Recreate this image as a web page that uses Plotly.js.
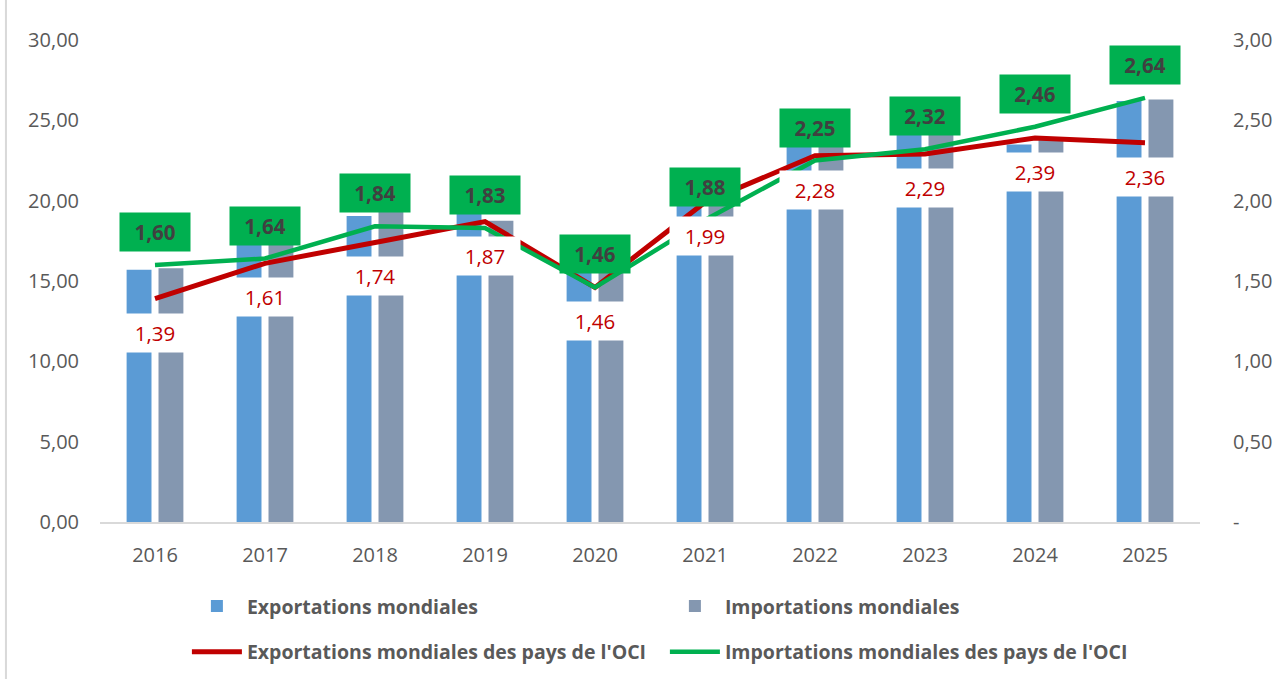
<!DOCTYPE html>
<html>
<head>
<meta charset="utf-8">
<script src="https://cdn.plot.ly/plotly-3.0.1.min.js"></script>
<style>
  html, body { margin: 0; padding: 0; background: #fff; }
  #chart { width: 1282px; height: 679px; }
</style>
</head>
<body>
<div id="chart"></div>
<script>
// Years on the x axis
const years = ["2016", "2017", "2018", "2019", "2020", "2021", "2022", "2023", "2024", "2025"];

// World trade (left axis)
const worldExports = [15.7, 17.6, 19.05, 19.3, 17.6, 21.5, 24.9, 24.5, 23.5, 26.2];
const worldImports = [15.8, 17.8, 19.3, 18.75, 17.8, 21.8, 25.5, 24.8, 23.9, 26.3];

// OIC countries (right axis)
const ociExports = [1.39, 1.61, 1.74, 1.87, 1.46, 1.99, 2.28, 2.29, 2.39, 2.36];
const ociImports = [1.60, 1.64, 1.84, 1.83, 1.46, 1.88, 2.25, 2.32, 2.46, 2.64];

const leftTicks = [0, 5, 10, 15, 20, 25, 30];
const rightTicks = [0, 0.5, 1, 1.5, 2, 2.5, 3];

const fmt = (v) => v.toFixed(2).replace(".", ",");

const FONT = "'Open Sans', 'Noto Sans', sans-serif";
const GREY = "#595959";

const exportsBars = {
  type: "bar",
  name: "Exportations mondiales",
  x: years,
  y: worldExports,
  marker: { color: "#5B9BD5" },
  legend: "legend",
};

const importsBars = {
  type: "bar",
  name: "Importations mondiales",
  x: years,
  y: worldImports,
  marker: { color: "#8497B0" },
  legend: "legend",
};

const ociExportsLine = {
  type: "scatter",
  mode: "lines",
  name: "Exportations mondiales des pays de l'OCI",
  x: years,
  y: ociExports,
  yaxis: "y2",
  line: { color: "#C00000", width: 5 },
  legend: "legend2",
};

const ociImportsLine = {
  type: "scatter",
  mode: "lines",
  name: "Importations mondiales des pays de l'OCI",
  x: years,
  y: ociImports,
  yaxis: "y2",
  line: { color: "#00B050", width: 4.5 },
  legend: "legend2",
};

// data labels: exports in white boxes below, imports in green boxes above
// (x given as category index so "2016" is not read as a number)
const exportLabels = years.map((yr, i) => ({
  x: i,
  y: ociExports[i],
  xref: "x",
  yref: "y2",
  yshift: -34,
  text: fmt(ociExports[i]),
  showarrow: false,
  bgcolor: "#ffffff",
  width: 62,
  height: 30,
  borderpad: 4,
  font: { family: FONT, size: 20.5, color: "#C00000" },
}));

const importLabels = years.map((yr, i) => ({
  x: i,
  y: ociImports[i],
  xref: "x",
  yref: "y2",
  yshift: 33,
  text: fmt(ociImports[i]),
  showarrow: false,
  bgcolor: "#00B050",
  width: 62,
  height: 30,
  borderpad: 4,
  font: { family: FONT, size: 20.5, color: "#404040", weight: 700 },
}));

const legendFont = { family: FONT, size: 19.5, color: GREY, weight: 700 };

const layout = {
  width: 1282,
  height: 679,
  margin: { t: 40, r: 82, b: 157, l: 100, autoexpand: false },
  paper_bgcolor: "#ffffff",
  plot_bgcolor: "#ffffff",
  separators: ", ",
  barmode: "group",
  bargap: 0.42,
  bargroupgap: 0.22,
  font: { family: FONT, color: GREY },
  xaxis: {
    type: "category",
    range: [-0.5, years.length - 0.5],
    showgrid: false,
    showline: true,
    linecolor: "#D9D9D9",
    linewidth: 2,
    ticks: "",
    tickfont: { size: 20, color: GREY },
    ticklabelstandoff: 14,
  },
  yaxis: {
    range: [0, 30],
    tickvals: leftTicks,
    ticktext: leftTicks.map(fmt),
    showgrid: false,
    zeroline: false,
    ticks: "",
    tickfont: { size: 20, color: GREY },
    ticklabelstandoff: 20,
  },
  yaxis2: {
    overlaying: "y",
    side: "right",
    range: [0, 3],
    tickvals: rightTicks,
    ticktext: rightTicks.map((v) => (v === 0 ? "-" : fmt(v))),
    showgrid: false,
    zeroline: false,
    ticks: "",
    tickfont: { size: 20, color: GREY },
    ticklabelstandoff: 32,
  },
  legend: {
    orientation: "h",
    x: 0.079,
    xanchor: "left",
    y: -0.175,
    yanchor: "middle",
    itemwidth: 50,
    entrywidth: 413,
    font: legendFont,
  },
  legend2: {
    orientation: "h",
    x: 0.079,
    xanchor: "left",
    y: -0.27,
    yanchor: "middle",
    itemwidth: 50,
    entrywidth: 413,
    font: legendFont,
  },
  annotations: exportLabels.concat(importLabels),
  shapes: [
    {
      type: "line",
      xref: "paper",
      yref: "paper",
      x0: -0.0855,
      x1: -0.0855,
      y0: -0.33,
      y1: 1.09,
      line: { color: "#D9D9D9", width: 2 },
    },
  ],
};

Plotly.newPlot("chart", [exportsBars, importsBars, ociExportsLine, ociImportsLine], layout, {
  displayModeBar: false,
});
</script>
</body>
</html>
